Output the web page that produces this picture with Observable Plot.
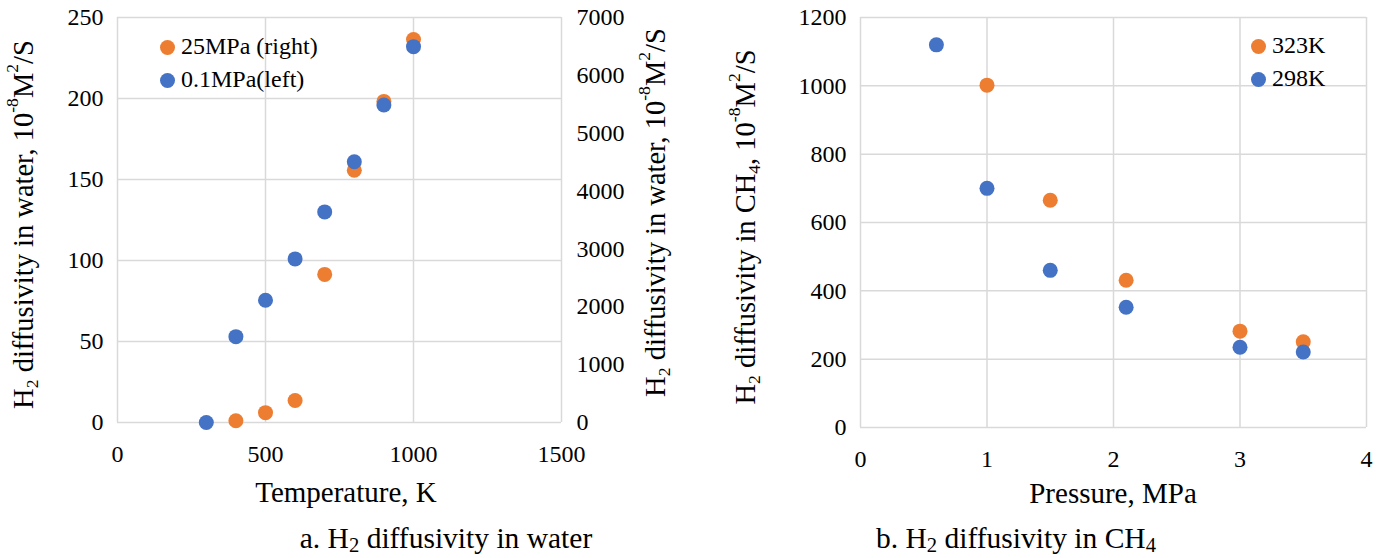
<!DOCTYPE html>
<html>
<head>
<meta charset="utf-8">
<script src="https://cdn.jsdelivr.net/npm/d3@7"></script>
<script src="https://cdn.jsdelivr.net/npm/@observablehq/plot@0.6"></script>
<style>
  html, body { margin: 0; padding: 0; background: #fff; }
  #root { position: relative; width: 1390px; height: 558px; font-family: "Liberation Serif", "Times New Roman", serif; color: #000; overflow: hidden; }
  #root svg, #root svg text, #root svg tspan { font-family: "Liberation Serif", "Times New Roman", serif !important; }
  .panel { position: absolute; top: 0; }
  .legend { position: absolute; font-family: "Liberation Serif", "Times New Roman", serif; font-size: 24px; line-height: 33px; }
  .legend .sw { display: inline-block; width: 15px; height: 15px; border-radius: 50%; margin-right: 6px; vertical-align: -1px; }
  .caption { position: absolute; top: 522px; font-family: "Liberation Serif", "Times New Roman", serif; font-size: 29.5px; white-space: nowrap; transform: translateX(-50%); }
  .caption sub { font-size: 0.7em; vertical-align: -0.2em; line-height: 0; }
</style>
</head>
<body>
<div id="root"></div>
<script>
// ---------- data ----------
// Panel a: H2 diffusivity in water vs temperature
const tempK = [300, 400, 500, 600, 700, 800, 900, 1000];
const water01MPa = [0, 53, 75.5, 101, 130, 161, 196, 232];          // left axis
const temp25K = [400, 500, 600, 700, 800, 900, 1000];
const water25MPa = [30, 170, 380, 2560, 4360, 5550, 6620];       // right axis
const aXTicks = [0, 500, 1000, 1500];
const aYTicks = [0, 50, 100, 150, 200, 250];
const aY2Ticks = [0, 1000, 2000, 3000, 4000, 5000, 6000, 7000];

// Panel b: H2 diffusivity in CH4 vs pressure
const press298 = [0.6, 1.0, 1.5, 2.1, 3.0, 3.5];
const ch4_298K = [1120, 700, 460, 352, 235, 221];
const press323 = [1.0, 1.5, 2.1, 3.0, 3.5];
const ch4_323K = [1002, 665, 431, 282, 251];
const bXTicks = [0, 1, 2, 3, 4];
const bYTicks = [0, 200, 400, 600, 800, 1000, 1200];

const ORANGE = "#ED7D31", BLUE = "#4472C4", GRID = "#d9d9d9";
const FONT = "Liberation Serif, Times New Roman, serif";

const root = document.getElementById("root");
const style = {fontFamily: FONT, fontSize: "24px", color: "#000", background: "#fff", overflow: "visible"};
const plain = d => String(d);

// ---------- panel a ----------
const leftMax = 250, rightMax = 7000;
const toLeft = v => v * leftMax / rightMax;
const blueA = tempK.map((t, i) => ({t, v: water01MPa[i]}));
const orangeA = temp25K.map((t, i) => ({t, v: toLeft(water25MPa[i]), raw: water25MPa[i]}));

const plotA = Plot.plot({
  width: 700, height: 510,
  marginTop: 17, marginBottom: 88, marginLeft: 117, marginRight: 139,
  style,
  x: {domain: [0, 1500]},
  y: {domain: [0, leftMax]},
  marks: [
    Plot.gridX(aXTicks, {stroke: GRID, strokeOpacity: 1, strokeWidth: 1.5}),
    Plot.gridY(aYTicks, {stroke: GRID, strokeOpacity: 1, strokeWidth: 1.5}),
    Plot.axisX({ticks: aXTicks, tickFormat: plain, tickSize: 0, tickPadding: 22, label: null}),
    Plot.axisY({ticks: aYTicks, tickFormat: plain, tickSize: 0, tickPadding: 14, label: null}),
    Plot.axisY({anchor: "right", ticks: aY2Ticks.map(toLeft), tickFormat: d => String(Math.round(d * rightMax / leftMax)), tickSize: 0, tickPadding: 15, label: null}),
    Plot.dot(orangeA, {x: "t", y: "v", r: 7.5, fill: ORANGE}),
    Plot.dot(blueA, {x: "t", y: "v", r: 7.5, fill: BLUE})
  ]
});
plotA.classList.add("panel");
plotA.style.left = "0px";
root.appendChild(plotA);

// ---------- panel b ----------
const blueB = press298.map((p, i) => ({p, v: ch4_298K[i]}));
const orangeB = press323.map((p, i) => ({p, v: ch4_323K[i]}));

const plotB = Plot.plot({
  width: 690, height: 510,
  marginTop: 17, marginBottom: 83, marginLeft: 160, marginRight: 24,
  style,
  x: {domain: [0, 4]},
  y: {domain: [0, 1200]},
  marks: [
    Plot.gridX(bXTicks, {stroke: GRID, strokeOpacity: 1, strokeWidth: 1.5}),
    Plot.gridY(bYTicks, {stroke: GRID, strokeOpacity: 1, strokeWidth: 1.5}),
    Plot.axisX({ticks: bXTicks, tickFormat: plain, tickSize: 0, tickPadding: 22, label: null}),
    Plot.axisY({ticks: bYTicks, tickFormat: plain, tickSize: 0, tickPadding: 14, label: null}),
    Plot.dot(orangeB, {x: "p", y: "v", r: 7.5, fill: ORANGE}),
    Plot.dot(blueB, {x: "p", y: "v", r: 7.5, fill: BLUE})
  ]
});
plotB.classList.add("panel");
plotB.style.left = "700px";
root.appendChild(plotB);

// ---------- axis titles with sub/superscripts ----------
function richText(svg, x, y, rotate, parts, size) {
  const t = d3.select(svg).append("text")
    .attr("transform", `translate(${x},${y})` + (rotate ? ` rotate(${rotate})` : ""))
    .attr("text-anchor", "middle")
    .attr("dominant-baseline", "central")
    .attr("font-family", FONT)
    .attr("font-size", size)
    .attr("fill", "#000");
  let shift = 0;
  for (const [s, kind] of parts) {
    const target = kind === "sub" ? 0.3 : kind === "sup" ? -0.4 : 0;
    const ts = t.append("tspan").text(s);
    const dy = target - shift;
    if (kind) {
      ts.attr("font-size", "0.62em");
      if (dy !== 0) ts.attr("dy", (dy / 0.62) + "em");
    } else if (dy !== 0) {
      ts.attr("dy", dy + "em");
    }
    shift = target;
  }
  return t;
}
const waterLabel = [["H", null], ["2", "sub"], [" diffusivity in water, 10", null], ["-8", "sup"], ["M", null], ["2", "sup"], ["/S", null]];
const ch4Label = [["H", null], ["2", "sub"], [" diffusivity in CH", null], ["4", "sub"], [", 10", null], ["-8", "sup"], ["M", null], ["2", "sup"], ["/S", null]];

const xA = plotA.scale("x"), yA = plotA.scale("y");
const midYA = (yA.range[0] + yA.range[1]) / 2;
richText(plotA, 23, midYA + 5, -90, waterLabel, 28.5);
richText(plotA, 655, midYA - 7, -90, waterLabel, 28.5);
richText(plotA, (xA.range[0] + xA.range[1]) / 2 + 7, 492, 0, [["Temperature, K", null]], 29);

const xB = plotB.scale("x"), yB = plotB.scale("y");
const midYB = (yB.range[0] + yB.range[1]) / 2;
richText(plotB, 45, midYB + 5, -90, ch4Label, 28.5);
richText(plotB, (xB.range[0] + xB.range[1]) / 2, 493, 0, [["Pressure, MPa", null]], 29);

// ---------- legends ----------
function legend(left, top, items) {
  const d = document.createElement("div");
  d.className = "legend";
  d.style.left = left + "px";
  d.style.top = top + "px";
  d.innerHTML = items.map(([c, s]) => `<div><span class="sw" style="background:${c}"></span>${s}</div>`).join("");
  root.appendChild(d);
}
legend(160, 30, [[ORANGE, "25MPa (right)"], [BLUE, "0.1MPa(left)"]]);
legend(1251, 29, [[ORANGE, "323K"], [BLUE, "298K"]]);

// ---------- captions ----------
function caption(cx, html) {
  const d = document.createElement("div");
  d.className = "caption";
  d.style.left = cx + "px";
  d.innerHTML = html;
  root.appendChild(d);
}
caption(446, "a. H<sub>2</sub> diffusivity in water");
caption(1016, "b. H<sub>2</sub> diffusivity in CH<sub>4</sub>");
</script>
</body>
</html>
